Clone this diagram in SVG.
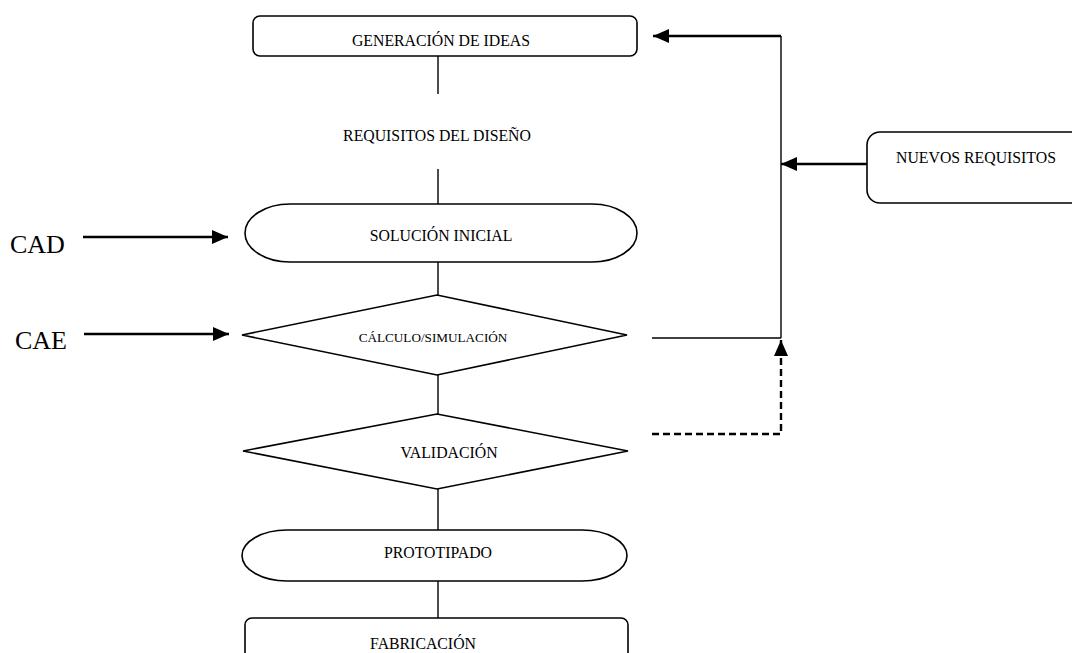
<svg xmlns="http://www.w3.org/2000/svg" width="1072" height="653" viewBox="0 0 1072 653">
<style>
.n{fill:#fff;stroke:#000;stroke-width:1.6}
.t{font-family:"Liberation Serif",serif;font-size:15.8px;fill:#000;text-anchor:middle}
.b{font-family:"Liberation Serif",serif;font-size:26px;fill:#000}
.c{fill:none;stroke:#000;stroke-width:1.4}
.a{fill:none;stroke:#000;stroke-width:2.4}
.d{fill:none;stroke:#000;stroke-width:2.4;stroke-dasharray:7,4}
</style>
<defs>
<marker id="ah" viewBox="0 0 16 14" refX="16" refY="7" markerWidth="16" markerHeight="14" markerUnits="userSpaceOnUse" orient="auto">
<path d="M0,0L16,7L0,14z" fill="#000"/>
</marker>
</defs>
<g id="connectors">
<line class="c" x1="438" y1="56" x2="438" y2="94"/>
<line class="c" x1="438" y1="169" x2="438" y2="204"/>
<line class="c" x1="438" y1="262" x2="438" y2="296"/>
<line class="c" x1="438" y1="375" x2="438" y2="414"/>
<line class="c" x1="438" y1="489" x2="438" y2="530"/>
<line class="c" x1="438" y1="581" x2="438" y2="618"/>
<line class="c" x1="652" y1="338" x2="781" y2="338"/>
<line class="c" x1="781" y1="338" x2="781" y2="36"/>
<path class="a" d="M781,36H653" marker-end="url(#ah)"/>
<path class="a" d="M867,164H781" marker-end="url(#ah)"/>
<path class="d" d="M652,434H781V340" marker-end="url(#ah)"/>
<path class="a" d="M83,237H228" marker-end="url(#ah)"/>
<path class="a" d="M84,334H229" marker-end="url(#ah)"/>
</g>
<g id="generacion">
<rect class="n" x="253" y="16" width="384" height="40" rx="7"/>
<text class="t" x="441" y="45.5">GENERACIÓN DE IDEAS</text>
</g>
<g id="requisitos">
<text class="t" x="437" y="140.5">REQUISITOS DEL DISEÑO</text>
</g>
<g id="solucion">
<rect class="n" x="245" y="204" width="392" height="58" rx="45" ry="29"/>
<text class="t" x="441" y="240.5">SOLUCIÓN INICIAL</text>
</g>
<g id="calculo">
<polygon class="n" points="242,335 437,295 627,335 437,375"/>
<text class="t" x="433" y="342" style="font-size:13.2px">CÁLCULO/SIMULACIÓN</text>
</g>
<g id="validacion">
<polygon class="n" points="243,451 437,414 628,451 437,489"/>
<text class="t" x="449" y="458">VALIDACIÓN</text>
</g>
<g id="prototipado">
<rect class="n" x="242" y="530" width="385" height="51" rx="45" ry="25.5"/>
<text class="t" x="438" y="558">PROTOTIPADO</text>
</g>
<g id="fabricacion">
<rect class="n" x="245" y="618" width="383" height="44" rx="7"/>
<text class="t" x="423" y="649">FABRICACIÓN</text>
</g>
<g id="nuevos">
<rect class="n" x="867" y="132" width="220" height="71" rx="13"/>
<text class="t" x="976" y="163">NUEVOS REQUISITOS</text>
</g>
<g id="cad"><text class="b" x="10" y="253">CAD</text></g>
<g id="cae"><text class="b" x="15" y="349">CAE</text></g>
</svg>
